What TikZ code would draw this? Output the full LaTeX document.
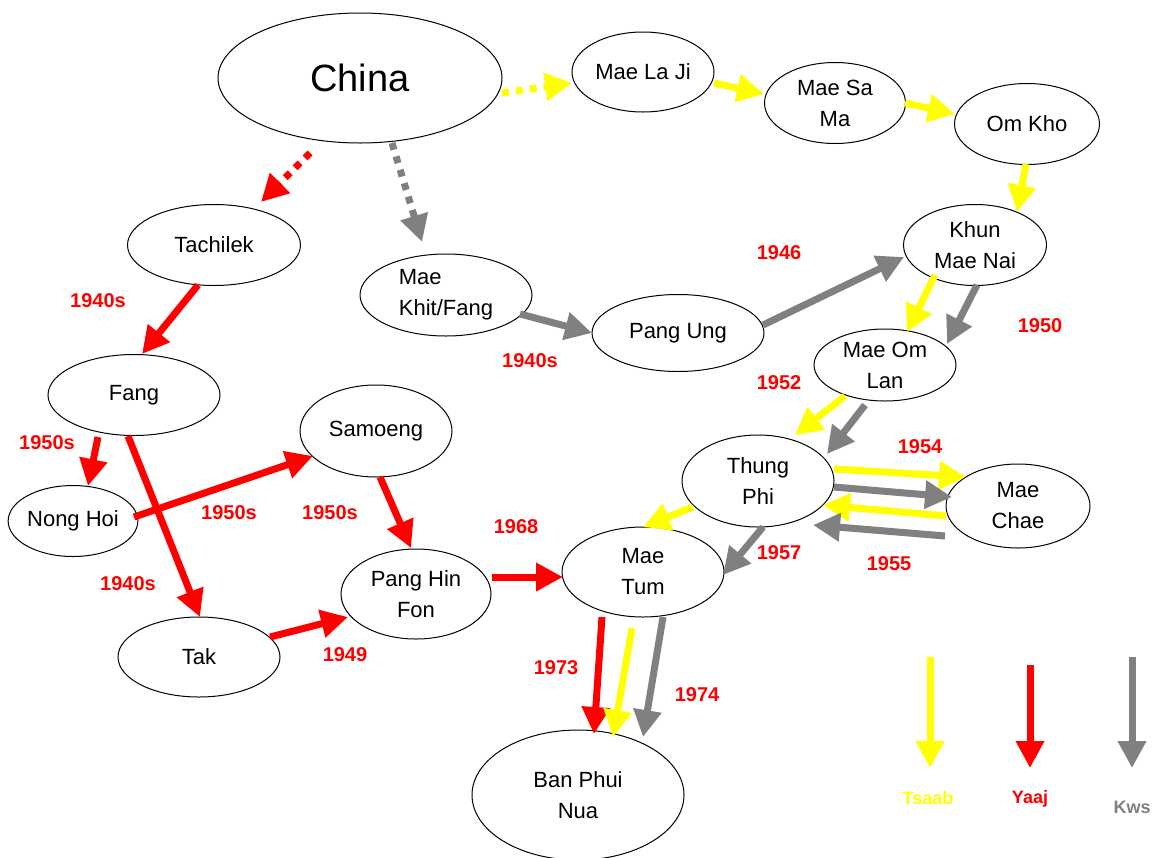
\documentclass[tikz,border=0pt]{standalone}
\usepackage{fontspec}
\setmainfont{Liberation Sans}
\usetikzlibrary{arrows.meta,shapes.geometric}
\definecolor{cy}{HTML}{FFFF00}
\definecolor{cr}{HTML}{FF0000}
\definecolor{cg}{HTML}{808080}
\begin{document}
\begin{tikzpicture}[x=1pt,y=-1pt,
  place/.style={ellipse,draw=black,line width=1pt,inner sep=0pt,align=center,
    font=\fontsize{22}{31}\selectfont},
  yr/.style={text=cr,font=\fontsize{20}{24}\selectfont\bfseries},
  leg/.style={font=\fontsize{18}{22}\selectfont\bfseries},
  flow/.style={line width=7pt,-{Triangle[width=27pt,length=27pt]}},
  dotflow/.style={flow,dash pattern=on 7pt off 7pt}
]
\useasboundingbox (0,0) rectangle (1158,857);

% nodes
\node[place,minimum width=284pt,minimum height=130pt] (china) at (360,78) {\fontsize{38}{40}\selectfont China};
\node[place,minimum width=142pt,minimum height=80pt] (mlj) at (643,72) {Mae La Ji};
\node[place,minimum width=141pt,minimum height=81pt] (msm) at (835,103) {Mae Sa\\Ma};
\node[place,minimum width=145pt,minimum height=81pt] (ok) at (1027,124) {Om Kho};
\node[place,minimum width=143pt,minimum height=81pt] (kmn) at (975,245) {Khun\\Mae Nai};
\node[place,minimum width=172pt,minimum height=77pt] (pu) at (678,333) {Pang Ung};
\node[place,minimum width=172pt,minimum height=82pt,align=left] (mkf) at (446,295) {Mae\\Khit/Fang};
\node[place,minimum width=173pt,minimum height=81pt] (tach) at (214,245) {Tachilek};
\node[place,minimum width=172pt,minimum height=81pt] (fang) at (134,395) {Fang};
\node[place,minimum width=122pt,minimum height=71pt] (nh) at (73,521) {Nong Hoi};
\node[place,minimum width=152pt,minimum height=92pt] (sam) at (376,431) {Samoeng};
\node[place,minimum width=162pt,minimum height=80pt] (tak) at (199,657) {Tak};
\node[place,minimum width=150pt,minimum height=90pt] (phf) at (416,594) {Pang Hin\\Fon};
\node[place,minimum width=162pt,minimum height=90pt] (mt) at (643,572) {Mae\\Tum};
\node[place,minimum width=142pt,minimum height=72pt] (mol) at (885,365) {Mae Om\\Lan};
\node[place,minimum width=152pt,minimum height=92pt] (tp) at (758,481) {Thung\\Phi};
\node[place,minimum width=144pt,minimum height=84pt] (mc) at (1018,506) {Mae\\Chae};
\node[place,minimum width=212pt,minimum height=130pt] (bpn) at (578,795) {Ban Phui\\Nua};

% dotted arrows from China
\draw[dotflow,cy] ([shift={(142,15)}]china.center) -- ([shift={(-71,11)}]mlj.center);
\draw[dotflow,cr] ([shift={(-50,75)}]china.center) -- ([shift={(47,-43)}]tach.center);
\draw[dotflow,cg] ([shift={(32,65)}]china.center) -- ([shift={(-24,-53)}]mkf.center);

% yellow chain
\draw[flow,cy] ([shift={(71,11)}]mlj.center) -- ([shift={(-71,-9)}]msm.center);
\draw[flow,cy] ([shift={(70,0)}]msm.center) -- ([shift={(-72,-10)}]ok.center);
\draw[flow,cy] ([shift={(-1,40)}]ok.center) -- ([shift={(42,-33)}]kmn.center);

% gray chain
\draw[flow,cg] ([shift={(74,19)}]mkf.center) -- ([shift={(-86,0)}]pu.center);
\draw[flow,cg] ([shift={(85,-8)}]pu.center) -- ([shift={(-71,12)}]kmn.center);

% Khun Mae Nai -> Mae Om Lan
\draw[flow,cy] ([shift={(-40,30)}]kmn.center) -- ([shift={(22,-33)}]mol.center);
\draw[flow,cg] ([shift={(2,40)}]kmn.center) -- ([shift={(62,-21)}]mol.center);

% Mae Om Lan -> Thung Phi
\draw[flow,cy] ([shift={(-40,31)}]mol.center) -- ([shift={(37,-46)}]tp.center);
\draw[flow,cg] ([shift={(-20,40)}]mol.center) -- ([shift={(69,-27)}]tp.center);

% Thung Phi <-> Mae Chae
\draw[flow,cy] ([shift={(76,-12)}]tp.center) -- ([shift={(-52,-29)}]mc.center);
\draw[flow,cg] ([shift={(76,6)}]tp.center) -- ([shift={(-66,-9)}]mc.center);
\draw[flow,cy] ([shift={(-72,10)}]mc.center) -- ([shift={(65,24)}]tp.center);
\draw[flow,cg] ([shift={(-73,30)}]mc.center) -- ([shift={(55,44)}]tp.center);

% Thung Phi -> Mae Tum
\draw[flow,cg] ([shift={(5,46)}]tp.center) -- ([shift={(80,3)}]mt.center);
\draw[flow,cy] ([shift={(-65,26)}]tp.center) -- ([shift={(0,-45)}]mt.center);

% Mae Tum -> Ban Phui Nua
\draw[flow,cr] ([shift={(-41,45)}]mt.center) -- ([shift={(16,-61)}]bpn.center);
\draw[flow,cy] ([shift={(-11,56)}]mt.center) -- ([shift={(35,-58)}]bpn.center);
\draw[flow,cg] ([shift={(20,45)}]mt.center) -- ([shift={(65,-58)}]bpn.center);

% red network
\draw[flow,cr] ([shift={(-16,40)}]tach.center) -- ([shift={(8,-41)}]fang.center);
\draw[flow,cr] ([shift={(-36,42)}]fang.center) -- ([shift={(15,-35)}]nh.center);
\draw[flow,cr] ([shift={(-6,41)}]fang.center) -- ([shift={(1,-40)}]tak.center);
\draw[flow,cr] ([shift={(61,-4)}]nh.center) -- ([shift={(-63,25)}]sam.center);
\draw[flow,cr] ([shift={(4,46)}]sam.center) -- ([shift={(-5,-46)}]phf.center);
\draw[flow,cr] ([shift={(71,-20)}]tak.center) -- ([shift={(-68,23)}]phf.center);
\draw[flow,cr] ([shift={(76,-17)}]phf.center) -- ([shift={(-80,5)}]mt.center);

% year labels
\node[yr] (l1) at (98,301) {1940s};
\node[yr] (l2) at (530,361) {1940s};
\node[yr] (l3) at (779,253) {1946};
\node[yr] (l4) at (1040,326) {1950};
\node[yr] (l5) at (779,383) {1952};
\node[yr] (l6) at (920,447) {1954};
\node[yr] (l7) at (889,564) {1955};
\node[yr] (l8) at (779,553) {1957};
\node[yr] (l9) at (516,527) {1968};
\node[yr] (l10) at (556,668) {1973};
\node[yr] (l11) at (697,695) {1974};
\node[yr] (l12) at (345,655) {1949};
\node[yr] (l13) at (128,584) {1940s};
\node[yr] (l14) at (47,443) {1950s};
\node[yr] (l15) at (229,513) {1950s};
\node[yr] (l16) at (330,513) {1950s};

% legend
\coordinate (ys) at (930,657); \coordinate (ye) at (930,768);
\coordinate (rs) at (1030,665); \coordinate (re) at (1030,768);
\coordinate (gs) at (1132,657); \coordinate (ge) at (1132,768);
\draw[flow,cy] (ys) -- (ye);
\draw[flow,cr] (rs) -- (re);
\draw[flow,cg] (gs) -- (ge);
\node[leg,text=cy] (tsaab) at (928,798) {Tsaab};
\node[leg,text=cr] (yaaj) at (1030,799) {Yaaj};
\node[leg,text=cg] (kws) at (1132,807) {Kws};
\end{tikzpicture}
\end{document}
